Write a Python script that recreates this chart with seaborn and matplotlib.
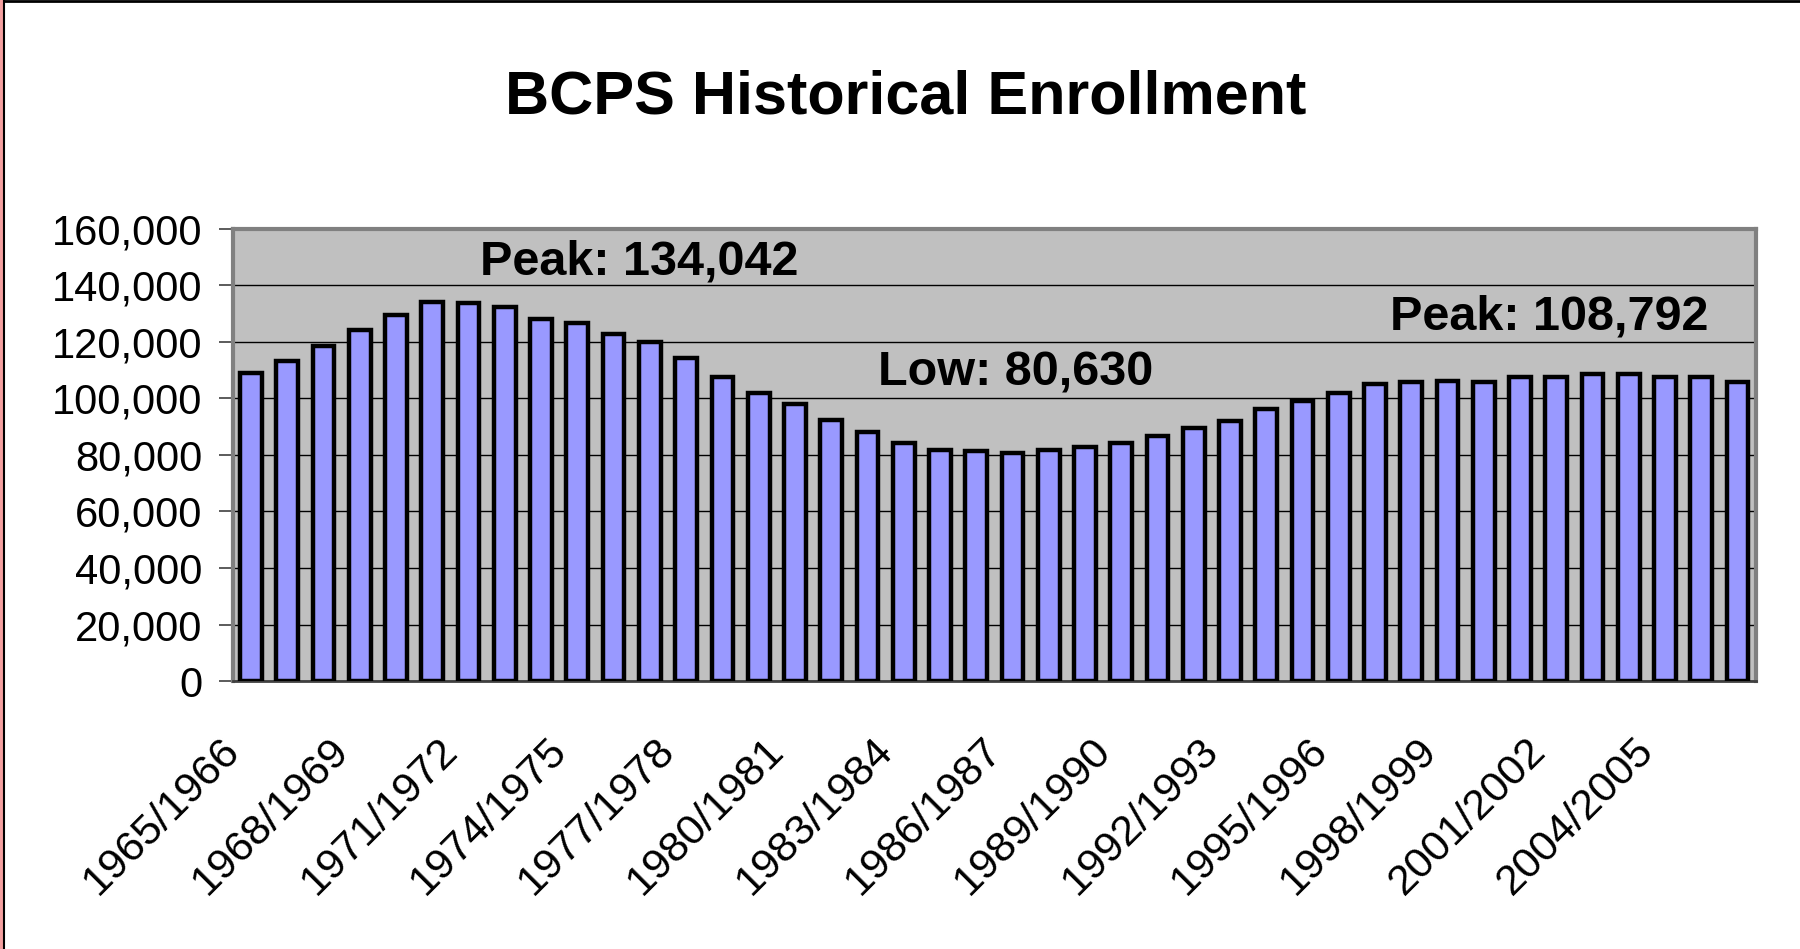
import numpy as np
import pandas as pd
import matplotlib
matplotlib.use("Agg")
import matplotlib.pyplot as plt
import matplotlib.ticker as mticker
from matplotlib.lines import Line2D
import seaborn as sns

# school years and enrollment
start_years = list(range(1965, 2007))
seasons = [f"{y}/{y + 1}" for y in start_years]
enrollment = [
    109000, 113100, 118700, 124200, 129600, 134042, 133900, 132300, 128300, 126900,
    122800, 120100, 114500, 107700, 102100, 98000, 92400, 88300, 84200, 81600,
    81500, 80630, 81600, 82800, 84200, 86800, 89500, 92200, 96300, 99200,
    101900, 105000, 106000, 106100, 106000, 107600, 107700, 108792, 108700, 107600,
    107500, 106000,
]
y_ticks = list(range(0, 160001, 20000))

df = pd.DataFrame({"season": seasons, "enrollment": enrollment})

sns.set_style("white")
plt.rcParams["font.family"] = ["Liberation Sans", "DejaVu Sans"]
plt.rcParams["text.color"] = "black"
plt.rcParams["xtick.color"] = "black"
plt.rcParams["ytick.color"] = "black"

fig = plt.figure(figsize=(18, 9.49), dpi=100)
ax = fig.add_axes([0.1294, 0.2824, 0.8460, 0.4763])
ax.set_facecolor("#C0C0C0")

sns.barplot(data=df, x="season", y="enrollment", color="#9999FF",
            saturation=1, edgecolor="black", linewidth=3.2, width=0.6, ax=ax,
            zorder=3)

ax.set_ylim(0, 160000)
ax.set_xlim(-0.5, len(seasons) - 0.5)
ax.set_yticks(y_ticks)
ax.yaxis.set_major_formatter(mticker.FuncFormatter(lambda v, p: f"{int(v):,}"))
ax.grid(axis="y", color="black", linewidth=1, zorder=1)
ax.set_axisbelow(True)

# labels every third season (nudged left like the original), tick marks on
# category boundaries
ax.set_xticks(np.arange(0, len(seasons), 3) - 0.47)
ax.set_xticklabels(seasons[::3], rotation=45, ha="right", va="center",
                   rotation_mode="anchor", fontsize=31)
ax.set_xticks(np.arange(-0.5, len(seasons), 1), minor=True)
ax.tick_params(axis="x", which="major", length=0, pad=46)
ax.tick_params(axis="x", which="minor", length=10, width=1.2, color="#404040",
               direction="out")
ax.tick_params(axis="y", labelsize=30, length=10, width=1.2, color="#404040",
               direction="out", pad=12, left=True)
ax.set_xlabel("")
ax.set_ylabel("")

for side in ["top", "right", "left"]:
    ax.spines[side].set_color("#808080")
    ax.spines[side].set_linewidth(3)
ax.spines["bottom"].set_color("#404040")
ax.spines["bottom"].set_linewidth(2)

txt = dict(fontsize=35, fontweight="bold", ha="center", va="center", zorder=5,
           color="black")
ax.text(10.7, 148400, "Peak: 134,042", **txt)
ax.text(21.1, 109100, "Low: 80,630", **txt)
ax.text(35.8, 128900, "Peak: 108,792", **txt)

fig.suptitle("BCPS Historical Enrollment", fontsize=44, fontweight="bold",
             x=0.503, y=0.897, va="center", color="black")

# slide frame edges: top and left
fig.add_artist(Line2D([0, 1], [0.999, 0.999], color="black", linewidth=2,
                      transform=fig.transFigure))
fig.add_artist(Line2D([0.0008, 0.0008], [0, 1], color="#F4A0A0", linewidth=3,
                      transform=fig.transFigure))
fig.add_artist(Line2D([0.0022, 0.0022], [0, 1], color="black", linewidth=1.5,
                      transform=fig.transFigure))

fig.savefig("out.png", dpi=100)
